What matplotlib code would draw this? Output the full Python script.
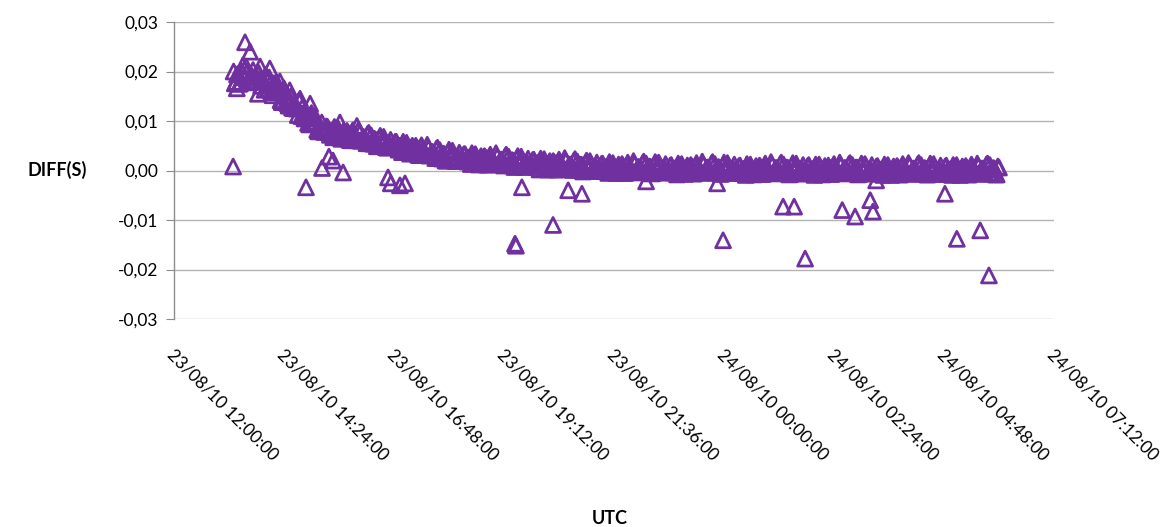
import numpy as np
import pandas as pd
import matplotlib
matplotlib.use("Agg")
import matplotlib.pyplot as plt
import matplotlib.transforms as mtransforms

# ---------------- data ----------------
start_time = pd.Timestamp("2010-08-23 12:00:00")
band_step_min = 3
value_unit = 1e-4  # band values below are in units of 0.0001 s

# samples starting 13:18:00, every 3 min
band_start_a = pd.Timestamp("2010-08-23 13:18:00")
band_values_a = [
    200, 179, 195, 177, 212, 189, 200, 178, 191, 182,
    182, 197, 171, 182, 193, 165, 176, 152, 175, 160,
    164, 138, 166, 142, 131, 150, 126, 133, 112, 141,
    128, 105, 112, 93, 116, 94, 99, 79, 87, 79,
    79, 88, 72, 80, 88, 71, 79, 64, 80, 72,
    76, 61, 81, 67, 61, 75, 61, 67, 55, 76,
    71, 54, 62, 49, 70, 54, 61, 46, 54, 48,
    48, 58, 42, 50, 58, 41, 49, 34, 50, 42,
    46, 31, 51, 37, 31, 45, 31, 37, 25, 46,
    41, 24, 33, 20, 42, 26, 34, 19, 28, 22,
    23, 33, 18, 26, 35, 18, 27, 12, 29, 21,
    26, 12, 32, 19, 14, 28, 15, 22, 10, 32,
    28, 11, 20, 8, 29, 14, 22, 7, 16, 11,
    11, 22, 7, 15, 24, 8, 16, 2, 19, 11,
    16, 2, 22, 9, 4, 19, 5, 12, 1, 23,
    18, 2, 11, -1, 20, 5, 13, -1, 8, 2,
    3, 14, -1, 8, 17, 0, 9, -5, 12, 5,
    9, -5, 16, 3, -2, 13, 0, 7, -4, 18,
    14, -2, 7, -5, 17, 2, 10, -4, 5, 0,
    0, 11, -4, 5, 14, -2, 7, -7, 10, 3,
    8, -6, 15, 2, -3, 12, -1, 6, -5, 17,
    13, -3, 6, -6, 16, 1, 9, -5, 4, -1,
    -1, 10, -5, 4, 13, -3, 6, -8, 9, 2,
    7, -7, 14, 1, -4, 11, -2, 5, -6, 16,
    12, -4, 5, -7, 15, 0, 8, -6, 3, -2,
    -2, 11, -5, 3, 12, -3, 7, -8, 9, 1,
    6, -7, 13, 2, -4, 10, -2, 5, -6, 15,
    11, -4, 6, -7, 14, 0, 8, -6, 2, -2,
    -2, 9, -6, 3, 12, -4, 5, -9, 8, 1,
    6, -8, 13, 0, -5, 10, -3, 4, -7, 15,
    11, -5, 4, -8, 14, -1, 7, -7, 2, -3,
    -2, 10, -6, 3, 11, -4, 5, -9, 8, 1,
    5, -8, 12, 0, -5, 9, -3, 4, -7, 14,
    11, -5, 4, -8, 6,
]

# samples starting 13:19:30, every 3 min
band_start_b = pd.Timestamp("2010-08-23 13:19:30")
band_values_b = [
    176, 194, 175, 201, 189, 210, 179, 192, 203, 180,
    197, 180, 184, 163, 184, 188, 160, 170, 158, 172,
    142, 161, 151, 136, 162, 127, 137, 125, 141, 110,
    109, 117, 96, 112, 98, 110, 82, 90, 97, 78,
    89, 77, 80, 67, 82, 86, 68, 76, 69, 80,
    62, 76, 71, 63, 82, 60, 68, 62, 74, 55,
    55, 64, 49, 65, 55, 68, 47, 55, 62, 47,
    58, 47, 50, 37, 52, 56, 38, 46, 39, 50,
    32, 46, 41, 33, 52, 30, 38, 32, 44, 25,
    25, 34, 20, 36, 27, 40, 20, 28, 36, 21,
    33, 22, 26, 13, 29, 33, 16, 24, 18, 29,
    12, 27, 22, 15, 35, 13, 22, 17, 29, 11,
    12, 21, 7, 24, 14, 28, 8, 16, 24, 10,
    21, 11, 15, 2, 18, 23, 5, 14, 8, 19,
    2, 17, 12, 5, 25, 4, 12, 7, 20, 2,
    2, 12, -2, 15, 5, 19, -1, 8, 16, 1,
    13, 3, 7, -5, 11, 15, -2, 7, 1, 13,
    -5, 10, 6, -1, 19, -2, 7, 2, 15, -3,
    -2, 8, -6, 11, 2, 16, -4, 5, 13, -1,
    10, 0, 4, -8, 8, 13, -4, 5, -1, 11,
    -6, 9, 5, -2, 18, -3, 6, 1, 14, -4,
    -3, 7, -7, 10, 1, 15, -5, 4, 12, -2,
    9, -1, 3, -9, 7, 12, -5, 4, -2, 10,
    -7, 8, 4, -3, 17, -4, 5, 0, 13, -5,
    -4, 6, -8, 9, 0, 14, -6, 3, 11, -3,
    9, -1, 3, -9, 7, 12, -5, 4, -2, 10,
    -7, 8, 4, -3, 16, -4, 5, 0, 13, -5,
    -4, 6, -8, 9, 0, 13, -6, 3, 11, -3,
    8, -2, 2, -9, 6, 11, -6, 3, -3, 9,
    -8, 7, 3, -4, 15, -5, 4, -1, 12, -6,
    -5, 5, -8, 8, -1, 13, -7, 2, 10, -4,
    8, -2, 2, -9, 6, 11, -6, 3, -3, 9,
    -8, 7, 3, -4, 14, -5, 4, -1, 12, -6,
    -5, 5, -8, 8,
]

# isolated points: hours after 12:00 on 23/08/10, and value (s)
extra_hours = [1.29, 1.55, 1.66, 1.88, 2.09, 2.31, 2.75, 2.97, 3.62, 3.99, 1.37, 1.83,
               2.88, 3.23, 3.47, 3.38, 3.69, 4.67, 4.73, 4.93, 5.04,
               7.44, 7.46, 7.59, 8.27, 8.60, 8.90, 10.30, 11.85, 11.98,
               13.29, 13.53, 13.77, 14.58, 14.86, 15.19, 15.25, 15.32,
               16.82, 17.08, 17.59, 17.78]
extra_values = [0.0008, 0.0259, 0.0240, 0.0210, 0.0206, 0.0180, 0.0145, 0.0135, 0.0097, 0.0090, 0.0166, 0.0155,
                -0.0034, 0.0005, 0.0020, 0.0028, -0.0004, -0.0014, -0.0026, -0.0030, -0.0026,
                -0.0148, -0.0152, -0.0034, -0.0110, -0.0040, -0.0047, -0.0022, -0.0026, -0.0141,
                -0.0073, -0.0073, -0.0178, -0.0080, -0.0093, -0.0060, -0.0083, -0.0020,
                -0.0047, -0.0138, -0.0121, -0.0212]

y_ticks = [-0.03, -0.02, -0.01, 0.00, 0.01, 0.02, 0.03]
x_end = pd.Timestamp("2010-08-24 07:12:00")
x_tick_step_min = 144

# ---------------- plot ----------------
purple = "#7030A0"
plt.rcParams["font.family"] = ["Lato", "DejaVu Sans"]

fig = plt.figure(figsize=(11.63, 5.27), dpi=100)
ax = fig.add_axes([174 / 1163, 1 - 319 / 527, (1054 - 174) / 1163, (319 - 22) / 527])

times_a = pd.date_range(band_start_a, periods=len(band_values_a), freq=f"{band_step_min}min")
times_b = pd.date_range(band_start_b, periods=len(band_values_b), freq=f"{band_step_min}min")
extra_times = start_time + pd.to_timedelta(extra_hours, unit="h")

all_times = list(times_a) + list(times_b) + list(extra_times)
all_vals = (list(np.array(band_values_a, float) * value_unit)
            + list(np.array(band_values_b, float) * value_unit)
            + list(extra_values))

ax.scatter(all_times, all_vals, marker="^", s=115, facecolors="none",
           edgecolors=purple, linewidths=2.0, zorder=3)

ax.set_xlim(start_time, x_end)
ax.set_ylim(-0.03, 0.03)
ax.set_yticks(y_ticks)
ax.set_yticklabels([f"{v:.2f}".replace(".", ",") for v in y_ticks], fontsize=12.5)

xt = pd.date_range(start_time, x_end, freq=f"{x_tick_step_min}min")
ax.set_xticks(xt)
ax.set_xticklabels([t.strftime("%d/%m/%y %H:%M:%S") for t in xt], fontsize=12.5,
                   rotation=-45, ha="left", va="top", rotation_mode="anchor")
ax.tick_params(axis="x", length=0, pad=20)
ax.tick_params(axis="y", length=6, color="#8c8c8c", pad=5)
offset = mtransforms.ScaledTranslation(2 / 100, 0, fig.dpi_scale_trans)
for lbl in ax.get_xticklabels():
    lbl.set_transform(lbl.get_transform() + offset)

ax.grid(axis="y", color="#b3b3b3", linewidth=1.0, zorder=0)
ax.set_axisbelow(True)
for s in ["top", "right", "bottom"]:
    ax.spines[s].set_visible(False)
ax.spines["left"].set_color("#8c8c8c")
ax.spines["left"].set_linewidth(1.0)

fig.text(57 / 1163, 1 - 170 / 527, "DIFF(S)", fontsize=13, fontweight="bold",
         ha="center", va="center")
fig.text(610 / 1163, 1 - 518 / 527, "UTC", fontsize=13, fontweight="bold",
         ha="center", va="center")

fig.savefig("out.png", dpi=100)
